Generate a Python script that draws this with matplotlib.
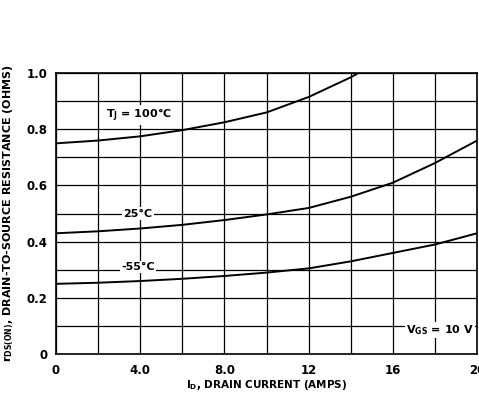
import matplotlib
matplotlib.use("Agg")
import matplotlib.pyplot as plt
import numpy as np

current = [0, 2, 4, 6, 8, 10, 12, 14, 16, 18, 20]
r_100 = [0.75, 0.76, 0.775, 0.797, 0.825, 0.86, 0.915, 0.985, 1.07, 1.16, 1.26]
r_25 = [0.43, 0.437, 0.447, 0.46, 0.477, 0.497, 0.52, 0.56, 0.61, 0.68, 0.76]
r_m55 = [0.25, 0.254, 0.26, 0.268, 0.278, 0.29, 0.305, 0.33, 0.36, 0.39, 0.43]
xticks = [0, 4, 8, 12, 16, 20]
xticklabels = ["0", "4.0", "8.0", "12", "16", "20"]
yticks = [0, 0.2, 0.4, 0.6, 0.8, 1.0]
yticklabels = ["0", "0.2", "0.4", "0.6", "0.8", "1.0"]

fig = plt.figure(figsize=(4.79, 3.93), dpi=100)
ax = fig.add_axes([0.117, 0.099, 0.879, 0.715])
ax.set_xlim(0, 20)
ax.set_ylim(0, 1.0)

for x in np.arange(0, 21, 2):
    ax.axvline(x, color="black", lw=0.9, zorder=1)
for y in np.arange(0, 1.01, 0.1):
    ax.axhline(y, color="black", lw=0.9, zorder=1)

for r in (r_100, r_25, r_m55):
    ax.plot(current, r, color="black", lw=1.4, zorder=3)

fp = dict(fontsize=8, fontweight="bold", family="DejaVu Sans")
bb = dict(facecolor="white", edgecolor="none", pad=0.8)
ax.text(2.35, 0.85, r"T$_\mathregular{J}$ = 100°C", ha="left", va="center", bbox=bb, zorder=4, **fp)
ax.text(3.9, 0.50, "25°C", ha="center", va="center", bbox=bb, zorder=4, **fp)
ax.text(3.9, 0.31, "-55°C", ha="center", va="center", bbox=bb, zorder=4, **fp)
ax.text(19.85, 0.085, r"V$_\mathregular{GS}$ = 10 V", ha="right", va="center", bbox=bb, zorder=4, **fp)

ax.set_xticks(xticks)
ax.set_xticklabels(xticklabels, fontsize=8.5, fontweight="bold")
ax.set_yticks(yticks)
ax.set_yticklabels(yticklabels, fontsize=8.5, fontweight="bold")
ax.tick_params(axis="x", length=0, pad=7)
ax.tick_params(axis="y", length=0, pad=6)
for s in ax.spines.values():
    s.set_linewidth(1.2)

ax.set_xlabel(r"I$_\mathregular{D}$, DRAIN CURRENT (AMPS)", fontsize=7.5, fontweight="bold", labelpad=1)
ax.set_ylabel(r"r$_\mathregular{DS(ON)}$, DRAIN-TO-SOURCE RESISTANCE (OHMS)", fontsize=8, fontweight="bold", labelpad=8)

fig.savefig("out.png", dpi=100)
